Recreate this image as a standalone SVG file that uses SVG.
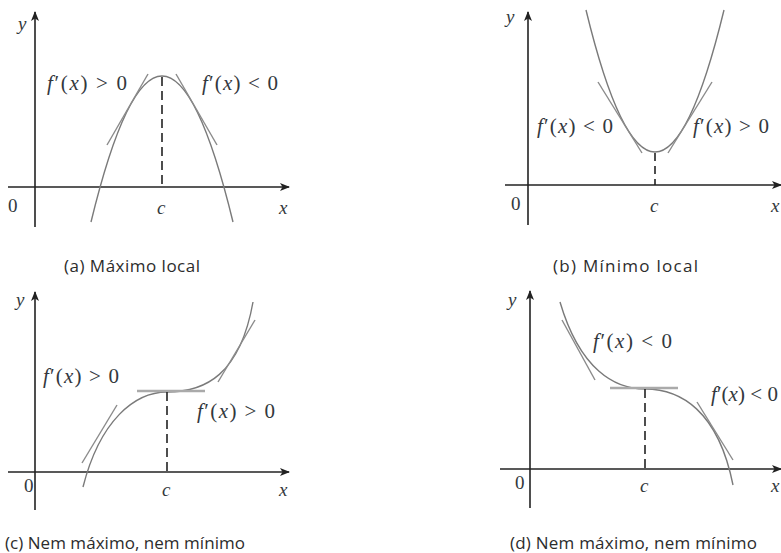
<svg xmlns="http://www.w3.org/2000/svg" width="781" height="553" viewBox="0 0 781 553">
<defs>
<marker id="ah" markerWidth="10" markerHeight="8" refX="9" refY="4" orient="auto" markerUnits="userSpaceOnUse">
<path d="M0,0 L10,4 L0,8 L2.5,4 Z" fill="#222"/>
</marker>
<style>
.ax{stroke:#222;stroke-width:1.6;fill:none}
.cv{stroke:#7a7a7a;stroke-width:1.4;fill:none}
.tg{stroke:#8a8a8a;stroke-width:1.4;fill:none}
.ht{stroke:#aaaaaa;stroke-width:2.6;fill:none}
.ds{stroke:#222;stroke-width:1.6;fill:none;stroke-dasharray:9,5}
.m{font-family:"Liberation Serif","DejaVu Serif",serif;font-size:21px;fill:#33383d}
.a{font-family:"Liberation Serif","DejaVu Serif",serif;font-size:19px;fill:#33383d}
.i{font-style:italic}
.cap{font-family:"Open Sans","Liberation Sans",sans-serif;font-size:17px;fill:#2c2c2c}
</style>
</defs>
<rect width="781" height="553" fill="#ffffff"/>

<g id="panel-a">
<line class="ax" x1="35" y1="227" x2="35" y2="12" marker-end="url(#ah)"/>
<line class="ax" x1="8" y1="187" x2="289" y2="187" marker-end="url(#ah)"/>
<path class="cv" d="M91,222 Q162,-70 233,222"/>
<line class="tg" x1="107" y1="145" x2="148" y2="74"/>
<line class="tg" x1="217" y1="145" x2="176" y2="74"/>
<line class="ds" x1="162" y1="77" x2="162" y2="187"/>
<text class="a i" x="18" y="30">y</text>
<text class="a" x="8" y="212">0</text>
<text class="a i" x="157" y="214">c</text>
<text class="a i" x="279" y="214">x</text>
<text class="m" x="47" y="90" textLength="80"><tspan class="i">f</tspan>′(<tspan class="i">x</tspan>) &gt; 0</text>
<text class="m" x="202" y="90" textLength="76"><tspan class="i">f</tspan>′(<tspan class="i">x</tspan>) &lt; 0</text>
<text class="cap" x="64" y="272" textLength="136">(a) Máximo local</text>
</g>

<g id="panel-b">
<line class="ax" x1="528" y1="225" x2="528" y2="12" marker-end="url(#ah)"/>
<line class="ax" x1="505" y1="185" x2="781" y2="185" marker-end="url(#ah)"/>
<path class="cv" d="M586,10 Q655,294 724,10"/>
<line class="tg" x1="598" y1="82" x2="642" y2="153"/>
<line class="tg" x1="712" y1="82" x2="668" y2="153"/>
<line class="ds" x1="655" y1="153" x2="655" y2="185" style="stroke-dasharray:8,5"/>
<text class="a i" x="506" y="23">y</text>
<text class="a" x="511" y="210">0</text>
<text class="a i" x="650" y="212">c</text>
<text class="a i" x="771" y="212">x</text>
<text class="m" x="537" y="133" textLength="76"><tspan class="i">f</tspan>′(<tspan class="i">x</tspan>) &lt; 0</text>
<text class="m" x="693" y="133" textLength="76"><tspan class="i">f</tspan>′(<tspan class="i">x</tspan>) &gt; 0</text>
<text class="cap" x="553" y="272" textLength="145">(b) Mínimo local</text>
</g>

<g id="panel-c">
<line class="ax" x1="35" y1="510" x2="35" y2="292" marker-end="url(#ah)"/>
<line class="ax" x1="8" y1="472" x2="289" y2="472" marker-end="url(#ah)"/>
<path class="cv" d="M83,487 C100,420 135,392 167,392 C205,392 240,375 253,302"/>
<line class="ht" x1="137" y1="391" x2="205" y2="391"/>
<line class="tg" x1="82" y1="463" x2="117" y2="405"/>
<line class="tg" x1="218" y1="382" x2="255" y2="320"/>
<line class="ds" x1="167" y1="392" x2="167" y2="472"/>
<text class="a i" x="16" y="306">y</text>
<text class="a" x="24" y="492">0</text>
<text class="a i" x="162" y="496">c</text>
<text class="a i" x="279" y="496">x</text>
<text class="m" x="43" y="383" textLength="76"><tspan class="i">f</tspan>′(<tspan class="i">x</tspan>) &gt; 0</text>
<text class="m" x="197" y="418" textLength="78"><tspan class="i">f</tspan>′(<tspan class="i">x</tspan>) &gt; 0</text>
<text class="cap" x="5" y="549" textLength="240">(c) Nem máximo, nem mínimo</text>
</g>

<g id="panel-d">
<line class="ax" x1="530" y1="508" x2="530" y2="291" marker-end="url(#ah)"/>
<line class="ax" x1="500" y1="469" x2="781" y2="469" marker-end="url(#ah)"/>
<path class="cv" d="M560,302 C580,370 615,389 645,389 C680,389 718,410 733,485"/>
<line class="ht" x1="610" y1="388" x2="678" y2="388"/>
<line class="tg" x1="562" y1="320" x2="595" y2="380"/>
<line class="tg" x1="697" y1="402" x2="733" y2="460"/>
<line class="ds" x1="645" y1="389" x2="645" y2="469"/>
<text class="a i" x="508" y="306">y</text>
<text class="a" x="515" y="489">0</text>
<text class="a i" x="640" y="492">c</text>
<text class="a i" x="771" y="492">x</text>
<text class="m" x="593" y="348" textLength="79"><tspan class="i">f</tspan>′(<tspan class="i">x</tspan>) &lt; 0</text>
<text class="m" x="711" y="401" textLength="67"><tspan class="i">f</tspan>′(<tspan class="i">x</tspan>) &lt; 0</text>
<text class="cap" x="510" y="549" textLength="247">(d) Nem máximo, nem mínimo</text>
</g>
</svg>
